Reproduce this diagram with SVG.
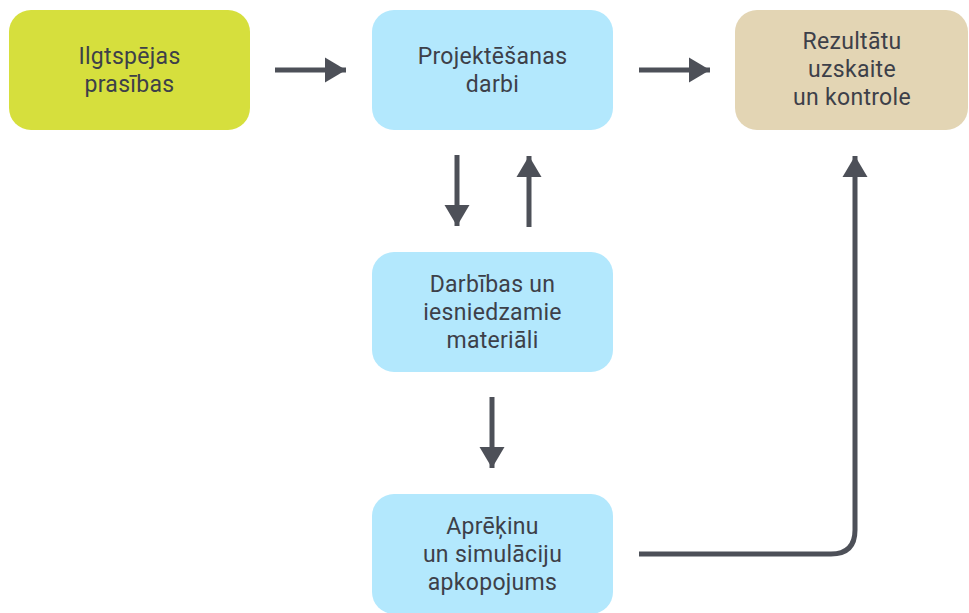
<svg xmlns="http://www.w3.org/2000/svg" width="969" height="613" viewBox="0 0 969 613">
<style>
.box{stroke:none}
.green{fill:#d6df3d}
.blue{fill:#b3e8fd}
.tan{fill:#e3d5b4}
text{font-family:Roboto,"Liberation Sans",sans-serif;font-size:23px;letter-spacing:0.3px;fill:#3d4049;text-anchor:middle}
.conn{stroke:#4d5058;stroke-width:5;fill:none}
</style>
<defs>
<marker id="ah" markerUnits="userSpaceOnUse" markerWidth="22" markerHeight="26" refX="21" refY="13" orient="auto" viewBox="0 0 22 26">
<path d="M0,0.5 L21,13 L0,25.5 Z" fill="#4d5058"/>
</marker>
</defs>
<rect width="969" height="613" fill="#ffffff"/>
<g id="n1">
<rect class="box green" x="9" y="10" width="241" height="120" rx="22"/>
<text x="129.5" y="64">Ilgtspējas</text>
<text x="129.5" y="92">prasības</text>
</g>
<g id="n2">
<rect class="box blue" x="372" y="10" width="241" height="120" rx="22"/>
<text x="492.5" y="64">Projektēšanas</text>
<text x="492.5" y="92">darbi</text>
</g>
<g id="n3">
<rect class="box tan" x="735" y="10" width="233" height="120" rx="22"/>
<text x="852" y="49">Rezultātu</text>
<text x="852" y="77">uzskaite</text>
<text x="852" y="105">un kontrole</text>
</g>
<g id="n4">
<rect class="box blue" x="372" y="252" width="241" height="120" rx="22"/>
<text x="492.5" y="292">Darbības un</text>
<text x="492.5" y="320">iesniedzamie</text>
<text x="492.5" y="348">materiāli</text>
</g>
<g id="n5">
<rect class="box blue" x="372" y="494" width="241" height="120" rx="22"/>
<text x="492.5" y="534">Aprēķinu</text>
<text x="492.5" y="562">un simulāciju</text>
<text x="492.5" y="590">apkopojums</text>
</g>
<g id="connectors">
<path class="conn" d="M275,70 H346" marker-end="url(#ah)"/>
<path class="conn" d="M639,70 H710" marker-end="url(#ah)"/>
<path class="conn" d="M457,155 V226" marker-end="url(#ah)"/>
<path class="conn" d="M529,227 V156" marker-end="url(#ah)"/>
<path class="conn" d="M492,397 V468" marker-end="url(#ah)"/>
<path class="conn" d="M639,554 H831 Q855,554 855,530 V156" marker-end="url(#ah)"/>
</g>
</svg>
